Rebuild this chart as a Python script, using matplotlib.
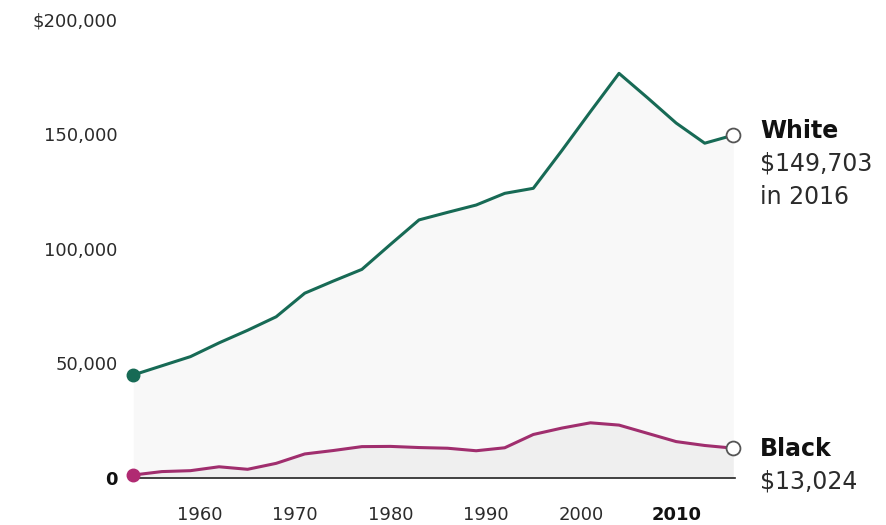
import matplotlib
matplotlib.use("Agg")
import matplotlib.pyplot as plt
import numpy as np

years = [1953, 1956, 1959, 1962, 1965, 1968, 1971, 1974, 1977, 1980, 1983,
         1986, 1989, 1992, 1995, 1998, 2001, 2004, 2007, 2010, 2013, 2016]
white = [45000, 49000, 53000, 59000, 64500, 70400, 80700, 86000, 91100, 102000, 112700,
         116000, 119200, 124300, 126500, 143000, 160000, 176700, 166000, 155000, 146200, 149703]
black = [1300, 2800, 3200, 4900, 3800, 6400, 10500, 12000, 13700, 13800, 13300,
         13000, 11900, 13200, 19000, 21800, 24100, 23100, 19500, 15900, 14200, 13024]

yticks = [0, 50000, 100000, 150000, 200000]
ytick_labels = ["0", "50,000", "100,000", "150,000", "$200,000"]
xticks = [1960, 1970, 1980, 1990, 2000, 2010]
xtick_labels = ["1960", "1970", "1980", "1990", "2000", "2010"]

GREEN = "#176a55"
MAGENTA = "#a02e6e"
TEXT = "#2b2b2b"

plt.rcParams['font.family'] = ['DejaVu Sans']

W, H = 886, 525
fig = plt.figure(figsize=(W / 100, H / 100), dpi=100)
fig.patch.set_facecolor("white")
left_px, right_px = 133.3, 733.3
bot_px, top_px = 478, 20
ax = fig.add_axes([left_px / W, (H - bot_px) / H, (right_px - left_px) / W, (bot_px - top_px) / H])
ax.set_xlim(1953, 2016)
ax.set_ylim(0, 200000)
for s in ax.spines.values():
    s.set_visible(False)
ax.set_facecolor("none")

# faint fills
ax.fill_between(years, black, white, color="#f8f8f8", lw=0, zorder=1)
ax.fill_between(years, 0, black, color="#efefef", lw=0, zorder=1)

# baseline
ax.plot([1953, 2016.2], [0, 0], color="#222222", lw=1.2, zorder=2, clip_on=False)

ax.plot(years, white, color=GREEN, lw=2.2, zorder=3, clip_on=False)
ax.plot(years, black, color=MAGENTA, lw=2.2, zorder=3, clip_on=False)

ax.plot([years[0]], [white[0]], "o", ms=9, color=GREEN, zorder=4, clip_on=False)
ax.plot([years[0]], [black[0]], "o", ms=9, color="#b02a72", zorder=4, clip_on=False)
ax.plot([years[-1]], [white[-1]], "o", ms=10, mfc="white", mec="#555555", mew=1.3, zorder=4, clip_on=False)
ax.plot([years[-1]], [black[-1]], "o", ms=10, mfc="white", mec="#555555", mew=1.3, zorder=4, clip_on=False)

ax.set_yticks(yticks)
ax.set_yticklabels(ytick_labels)
ax.set_xticks(xticks)
ax.set_xticklabels(xtick_labels)
ax.tick_params(axis="y", length=0, pad=11.5, labelsize=13, labelcolor=TEXT)
ax.tick_params(axis="x", length=0, pad=20, labelsize=13, labelcolor=TEXT)
for lab in ax.get_yticklabels():
    if lab.get_text() == "0":
        lab.set_fontweight("bold")
        lab.set_color("#111111")
for lab in ax.get_xticklabels():
    if lab.get_text() == "2010":
        lab.set_fontweight("bold")
        lab.set_color("#111111")

def fy(py):
    return (H - py) / H

fig.text(760 / W, fy(131), "White", fontsize=17, fontweight="bold", color="#111111", va="center", ha="left")
fig.text(760 / W, fy(164), "$149,703", fontsize=17, color=TEXT, va="center", ha="left")
fig.text(760 / W, fy(197), "in 2016", fontsize=17, color=TEXT, va="center", ha="left")
fig.text(760 / W, fy(449), "Black", fontsize=17, fontweight="bold", color="#111111", va="center", ha="left")
fig.text(760 / W, fy(482), "$13,024", fontsize=17, color=TEXT, va="center", ha="left")

fig.savefig("out.png", dpi=100, facecolor="white")
